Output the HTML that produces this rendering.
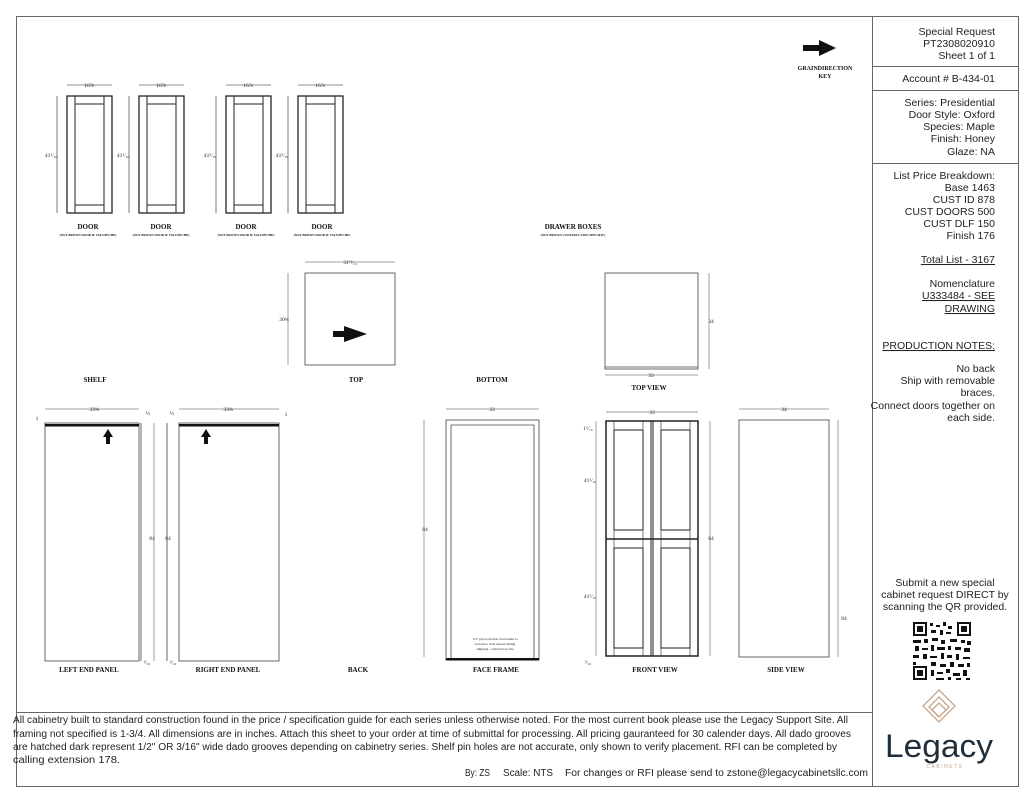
<!DOCTYPE html>
<html><head><meta charset="utf-8"><style>
html,body{margin:0;padding:0;background:#fff;}
svg{display:block;}
.s{font-family:"Liberation Serif",serif;font-weight:bold;fill:#111;text-anchor:middle;}
.d{font-family:"Liberation Serif",serif;fill:#222;font-size:5.5px;text-anchor:middle;}
.r{font-family:"Liberation Sans",sans-serif;font-size:10.5px;fill:#222;text-anchor:end;}
.f{font-family:"Liberation Sans",sans-serif;font-size:10px;fill:#222;}
</style></head><body>
<svg width="1024" height="791" viewBox="0 0 1024 791" xmlns="http://www.w3.org/2000/svg">
<g fill="none" stroke="#666" stroke-width="1">
<rect x="16.5" y="16.5" width="1002" height="770"/>
<line x1="872.5" y1="16" x2="872.5" y2="787"/>
<line x1="16" y1="712.5" x2="872" y2="712.5"/>
<line x1="872" y1="66.5" x2="1018" y2="66.5"/>
<line x1="872" y1="90.5" x2="1018" y2="90.5"/>
<line x1="872" y1="163.5" x2="1018" y2="163.5"/>
</g>
<!-- doors -->
<g fill="none" stroke="#222" stroke-width="1">
<g id="door">
<rect x="67" y="96" width="45" height="117" stroke-width="1.3"/>
<line x1="75" y1="96" x2="75" y2="213"/><line x1="104" y1="96" x2="104" y2="213"/>
<rect x="75" y="104" width="29" height="101"/>
<line x1="67" y1="85" x2="112" y2="85" stroke-width="0.6"/>
<line x1="57" y1="96" x2="57" y2="213" stroke-width="0.6"/>
</g>
<use href="#door" transform="translate(72,0)"/>
<use href="#door" transform="translate(159,0)"/>
<use href="#door" transform="translate(231,0)"/>
</g>
<g class="d">
<text x="89" y="87">16⅞</text><text x="161" y="87">16⅞</text><text x="248" y="87">16⅞</text><text x="320" y="87">16⅞</text>
<text x="51" y="157">41⁵⁄₁₆</text><text x="123" y="157">41⁵⁄₁₆</text><text x="210" y="157">41⁵⁄₁₆</text><text x="282" y="157">41⁵⁄₁₆</text>
</g>
<g class="s" font-size="7">
<text x="88" y="229">DOOR</text><text x="161" y="229">DOOR</text><text x="246" y="229">DOOR</text><text x="322" y="229">DOOR</text>
<text x="573" y="229">DRAWER BOXES</text>
<text x="95" y="382">SHELF</text><text x="356" y="382">TOP</text><text x="492" y="382">BOTTOM</text><text x="649" y="390">TOP VIEW</text>
<text x="89" y="672">LEFT END PANEL</text><text x="228" y="672">RIGHT END PANEL</text><text x="358" y="672">BACK</text>
<text x="496" y="672">FACE FRAME</text><text x="655" y="672">FRONT VIEW</text><text x="786" y="672">SIDE VIEW</text>
<text x="825" y="70" font-size="6">GRAINDIRECTION</text><text x="825" y="78" font-size="6">KEY</text>
</g>
<g class="s" font-size="3.2" font-weight="normal">
<text x="88" y="236">(NOT BROWN DOOR IF VALUPECHE)</text><text x="161" y="236">(NOT BROWN DOOR IF VALUPECHE)</text>
<text x="246" y="236">(NOT BROWN DOOR IF VALUPECHE)</text><text x="322" y="236">(NOT BROWN DOOR IF VALUPECHE)</text>
<text x="573" y="236">(NOT BROWN CONSTRUCTION SPECIFIC)</text>
</g>
<path d="M803 45h16v-5l17 8-17 8v-5h-16z" fill="#111"/>
<g fill="none" stroke="#444" stroke-width="0.8">
<rect x="305" y="273" width="90" height="92"/>
<line x1="305" y1="262" x2="395" y2="262" stroke-width="0.5"/>
<line x1="288" y1="273" x2="288" y2="365" stroke-width="0.5"/>
<rect x="605" y="273" width="93" height="96"/>
<line x1="605" y1="367" x2="698" y2="367"/>
<line x1="709" y1="273" x2="709" y2="369" stroke-width="0.5"/>
<line x1="605" y1="375" x2="698" y2="375" stroke-width="0.5"/>
</g>
<path d="M333 331h11v-5l23 8-23 8v-5h-11z" fill="#111"/>
<g class="d"><text x="350" y="264">31¹³⁄₁₆</text><text x="284" y="321">30¾</text><text x="711" y="323">34</text><text x="651" y="377">33</text></g>
<g fill="none" stroke="#444" stroke-width="0.8">
<rect x="45" y="423" width="94" height="238"/>
<line x1="141" y1="423" x2="141" y2="661"/>
<line x1="45" y1="409" x2="139" y2="409" stroke-width="0.5"/>
<line x1="154" y1="423" x2="154" y2="661" stroke-width="0.5"/>
<rect x="179" y="423" width="100" height="238"/>
<line x1="167" y1="423" x2="167" y2="661"/>
<line x1="179" y1="409" x2="279" y2="409" stroke-width="0.5"/>
<rect x="446" y="420" width="93" height="240"/>
<line x1="451" y1="425" x2="451" y2="660"/><line x1="534" y1="425" x2="534" y2="660"/>
<line x1="451" y1="425" x2="534" y2="425"/>
<line x1="424" y1="420" x2="424" y2="657" stroke-width="0.5"/>
<line x1="446" y1="409" x2="539" y2="409" stroke-width="0.5"/>
<rect x="739" y="420" width="90" height="237"/>
<line x1="739" y1="409" x2="829" y2="409" stroke-width="0.5"/>
<line x1="838" y1="420" x2="838" y2="657" stroke-width="0.5"/>
<line x1="606" y1="412" x2="698" y2="412" stroke-width="0.5"/>
<line x1="596" y1="421" x2="596" y2="656" stroke-width="0.5"/>
<line x1="710" y1="421" x2="710" y2="656" stroke-width="0.5"/>
</g>
<rect x="45" y="424" width="94" height="2.5" fill="#111"/>
<rect x="179" y="424" width="100" height="2.5" fill="#111"/>
<rect x="446" y="658" width="93" height="2.5" fill="#111"/>
<path d="M108 429l5 8h-3v7h-4v-7h-3z" fill="#111"/>
<path d="M206 429l5 8h-3v7h-4v-7h-3z" fill="#111"/>
<g fill="none" stroke="#222" stroke-width="1">
<rect x="606" y="421" width="92" height="235" stroke-width="1.5"/>
<line x1="606" y1="539" x2="698" y2="539" stroke-width="1.5"/>
<line x1="651" y1="421" x2="651" y2="656"/><line x1="653" y1="421" x2="653" y2="656"/>
<line x1="614" y1="421" x2="614" y2="656" stroke-width="0.6"/><line x1="643" y1="421" x2="643" y2="656" stroke-width="0.6"/>
<line x1="661" y1="421" x2="661" y2="656" stroke-width="0.6"/><line x1="690" y1="421" x2="690" y2="656" stroke-width="0.6"/>
<rect x="614" y="430" width="29" height="100"/><rect x="661" y="430" width="29" height="100"/>
<rect x="614" y="548" width="29" height="100"/><rect x="661" y="548" width="29" height="100"/>
</g>
<g class="d">
<text x="94" y="411">33⅝</text><text x="228" y="411">33⅝</text><text x="148" y="415">½</text><text x="172" y="415">½</text>
<text x="37" y="420">1</text><text x="286" y="416">1</text>
<text x="152" y="540">84</text><text x="168" y="540">84</text><text x="147" y="664">³⁄₁₆</text><text x="173" y="664">³⁄₁₆</text>
<text x="492" y="411">33</text><text x="425" y="531">84</text>
<text x="652" y="414">33</text><text x="711" y="540">84</text>
<text x="784" y="411">34</text><text x="844" y="620">84</text>
<text x="588" y="430">1⁵⁄₁₆</text><text x="590" y="482">41⁵⁄₁₆</text><text x="590" y="598">41⁵⁄₁₆</text><text x="588" y="664">³⁄₁₆</text>
<text x="495" y="640" font-size="3.5">1/2" plywood mat crtal nailed to</text>
<text x="495" y="645" font-size="3.5">bottom to hold square during</text>
<text x="495" y="650" font-size="3.5">shipping - removed on site</text>
</g>
<g class="r">
<text x="995" y="35">Special Request</text><text x="995" y="47">PT2308020910</text><text x="995" y="59">Sheet 1 of 1</text>
<text x="995" y="82">Account # B-434-01</text>
<text x="995" y="106">Series: Presidential</text><text x="995" y="118">Door Style: Oxford</text><text x="995" y="130">Species: Maple</text><text x="995" y="142">Finish: Honey</text><text x="995" y="155">Glaze: NA</text>
<text x="995" y="179">List Price Breakdown:</text><text x="995" y="191">Base 1463</text><text x="995" y="203">CUST ID 878</text><text x="995" y="215">CUST DOORS 500</text><text x="995" y="227">CUST DLF 150</text><text x="995" y="239">Finish 176</text>
<text x="995" y="263" text-decoration="underline">Total List - 3167</text>
<text x="995" y="287">Nomenclature</text><text x="995" y="299" text-decoration="underline">U333484 - SEE</text><text x="995" y="312" text-decoration="underline">DRAWING</text>
<text x="995" y="349" text-decoration="underline">PRODUCTION NOTES:</text>
<text x="995" y="372">No back</text><text x="995" y="384">Ship with removable</text><text x="995" y="396">braces.</text><text x="995" y="409">Connect doors together on</text><text x="995" y="421">each side.</text>
<text x="945" y="586" text-anchor="middle">Submit a new special</text>
<text x="945" y="598" text-anchor="middle">cabinet request DIRECT by</text>
<text x="945" y="610" text-anchor="middle">scanning the QR provided.</text>
</g>
<g fill="#111">
<rect x="911" y="620" width="62" height="62" fill="#fff"/>
<rect x="913" y="622" width="14" height="14"/><rect x="915" y="624" width="10" height="10" fill="#fff"/><rect x="917" y="626" width="6" height="6"/>
<rect x="957" y="622" width="14" height="14"/><rect x="959" y="624" width="10" height="10" fill="#fff"/><rect x="961" y="626" width="6" height="6"/>
<rect x="913" y="666" width="14" height="14"/><rect x="915" y="668" width="10" height="10" fill="#fff"/><rect x="917" y="670" width="6" height="6"/>
<path d="M930 623h3v3h-3zM936 625h4v2h-4zM943 622h3v4h-3zM948 626h4v3h-4zM931 630h5v3h-5zM940 630h3v5h-3zM946 632h5v2h-5zM913 640h8v3h-8zM924 639h4v4h-4zM932 638h6v3h-6zM941 640h4v4h-4zM950 639h7v3h-7zM961 640h4v3h-4zM967 641h4v4h-4zM915 646h4v5h-4zM922 648h6v2h-6zM931 645h3v6h-3zM937 647h8v3h-8zM948 646h3v4h-3zM955 647h6v3h-6zM964 648h6v4h-6zM913 655h6v3h-6zM923 654h4v5h-4zM930 656h7v2h-7zM941 653h3v6h-3zM947 655h5v3h-5zM956 654h3v6h-3zM963 657h7v2h-7zM913 662h3v3h-3zM931 662h5v4h-5zM940 664h6v3h-6zM950 662h4v5h-4zM958 664h6v3h-6zM967 663h3v4h-3zM931 670h3v6h-3zM937 672h6v2h-6zM946 669h4v4h-4zM953 673h7v3h-7zM963 670h4v6h-4zM936 678h8v2h-8zM948 677h3v3h-3zM956 678h5v2h-5zM966 678h4v2h-4z"/>
</g>
<g fill="none" stroke="#c8a68a" stroke-width="1.3">
<path d="M939 690l16 16-16 16-16-16z"/><path d="M939 697l10 10-10 10-10-10z"/><path d="M939 703l7 7-7 7-7-7z"/>
</g>
<text x="885" y="757" textLength="108" lengthAdjust="spacingAndGlyphs" font-family="Liberation Sans,sans-serif" font-size="32" fill="#1f2e3a">Legacy</text>
<text x="945" y="768" text-anchor="middle" font-family="Liberation Sans,sans-serif" font-size="5" fill="#c8a68a" letter-spacing="1.5">CABINETS</text>
<g class="f">
<text x="13" y="723" textLength="835" lengthAdjust="spacingAndGlyphs">All cabinetry built to standard construction found in the price / specification guide for each series unless otherwise noted. For the most current book please use the Legacy Support Site. All</text>
<text x="13" y="737" textLength="838" lengthAdjust="spacingAndGlyphs">framing not specified is 1-3/4. All dimensions are in inches. Attach this sheet to your order at time of submittal for processing. All pricing gauranteed for 30 calender days. All dado grooves</text>
<text x="13" y="750" textLength="824" lengthAdjust="spacingAndGlyphs">are hatched dark represent 1/2" OR 3/16" wide dado grooves depending on cabinetry series. Shelf pin holes are not accurate, only shown to verify placement. RFI can be completed by</text>
<text x="13" y="763" textLength="107" lengthAdjust="spacingAndGlyphs">calling extension 178.</text>
<text x="465" y="776" textLength="25" lengthAdjust="spacingAndGlyphs">By: ZS</text>
<text x="503" y="776" textLength="50" lengthAdjust="spacingAndGlyphs">Scale: NTS</text>
<text x="565" y="776" textLength="303" lengthAdjust="spacingAndGlyphs">For changes or RFI please send to zstone@legacycabinetsllc.com</text>
</g>
</svg>
</body></html>
